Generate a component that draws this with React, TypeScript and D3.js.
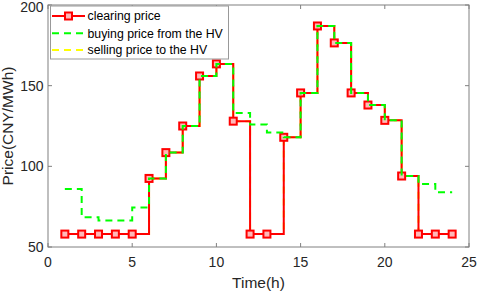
import React from "react";
import * as d3 from "d3";

const hours = [1, 2, 3, 4, 5, 6, 7, 8, 9, 10, 11, 12, 13, 14, 15, 16, 17, 18, 19, 20, 21, 22, 23, 24];
const clearingPrice = [58, 58, 58, 58, 58, 92.5, 108.5, 125, 156, 163.5, 128, 58, 58, 118, 145.5, 187, 176.5, 145.5, 138, 128.5, 94, 58, 58, 58];
const buyingPrice = [86, 68.5, 66.5, 66.5, 74.5, 92.5, 108.5, 125, 156, 163.5, 133, 126, 121, 118, 145.5, 187, 176.5, 145.5, 138, 128.5, 94, 89, 84, 84];
const sellingPrice = [58, 58, 58, 58, 58, 92.5, 108.5, 125, 156, 163.5, 128, 58, 58, 118, 145.5, 187, 176.5, 145.5, 138, 128.5, 94, 58, 58, 58];
const xTicks = [0, 5, 10, 15, 20, 25];
const yTicks = [50, 100, 150, 200];
const legendLabels = ["clearing price", "buying price from the HV", "selling price to the HV"];

const W = 477, H = 291;
const L = 48, R = 469, T = 5, B = 247;
const FONT = "'Liberation Sans', Arial, sans-serif";

export default function App() {
  const x = d3.scaleLinear().domain([0, 25]).range([L, R]);
  const y = d3.scaleLinear().domain([50, 200]).range([B, T]);
  const stair = (vals: number[]) =>
    d3.line<number>().x((_, i) => x(hours[i])).y((v) => y(v)).curve(d3.curveStepAfter)(vals) || "";
  const axisColor = "#808080";
  const tickLen = 4;
  const red = "#ff0000", green = "#00ff00", yellow = "#ffff00";
  const ms = 7;
  const mFill = "#ffb8b8";
  const lgX = 50.5, lgY = 6, lgW = 178, lgH = 53;
  const rows = [16, 33.3, 50];
  return (
    <div style={{ position: "fixed", left: 0, top: 0 }}>
      <svg width={W} height={H} style={{ display: "block", background: "#fff" }}>
        <rect x={0} y={0} width={W} height={H} fill="#fff" />
        <path d={stair(sellingPrice)} fill="none" stroke={yellow} strokeWidth={2} strokeDasharray="7 5" />
        <path d={stair(clearingPrice)} fill="none" stroke={red} strokeWidth={2} />
        {clearingPrice.map((v, i) => (
          <rect key={i} x={x(hours[i]) - ms / 2} y={y(v) - ms / 2} width={ms} height={ms} fill={mFill} stroke={red} strokeWidth={2} />
        ))}
        <path d={stair(buyingPrice)} fill="none" stroke={green} strokeWidth={2} strokeDasharray="7 5" />
        <rect x={L} y={T} width={R - L} height={B - T} fill="none" stroke={axisColor} strokeWidth={1} />
        {xTicks.map((t) => (
          <g key={"x" + t}>
            <line x1={x(t)} x2={x(t)} y1={B} y2={B - tickLen} stroke={axisColor} />
            <line x1={x(t)} x2={x(t)} y1={T} y2={T + tickLen} stroke={axisColor} />
            <text x={x(t)} y={266.5} textAnchor="middle" fontFamily={FONT} fontSize={14} fill="#262626">{t}</text>
          </g>
        ))}
        {yTicks.map((t) => (
          <g key={"y" + t}>
            <line x1={L} x2={L + tickLen} y1={y(t)} y2={y(t)} stroke={axisColor} />
            <line x1={R} x2={R - tickLen} y1={y(t)} y2={y(t)} stroke={axisColor} />
            <text x={43.5} y={Math.max(y(t), 6.5)} dy="0.36em" textAnchor="end" fontFamily={FONT} fontSize={14} fill="#262626">{t}</text>
          </g>
        ))}
        <text x={(L + R) / 2} y={288} textAnchor="middle" fontFamily={FONT} fontSize={15.5} fill="#262626">Time(h)</text>
        <text transform={`translate(12.5,${(T + B) / 2}) rotate(-90)`} textAnchor="middle" fontFamily={FONT} fontSize={15.5} fill="#262626">Price(CNY/MWh)</text>
        <rect x={lgX} y={lgY} width={lgW} height={lgH} fill="#fff" stroke="#999" strokeWidth={1} />
        {legendLabels.map((lab, i) => {
          const cy = rows[i];
          const col = i === 0 ? red : i === 1 ? green : yellow;
          return (
            <g key={lab}>
              <line x1={52} x2={85} y1={cy} y2={cy} stroke={col} strokeWidth={2} strokeDasharray={i === 0 ? undefined : "7 5"} />
              {i === 0 && <rect x={68.5 - ms / 2} y={cy - ms / 2} width={ms} height={ms} fill={mFill} stroke={red} strokeWidth={2} />}
              <text x={87.5} y={cy} dy="0.36em" fontFamily={FONT} fontSize={12.3} fill="#000">{lab}</text>
            </g>
          );
        })}
      </svg>
    </div>
  );
}
